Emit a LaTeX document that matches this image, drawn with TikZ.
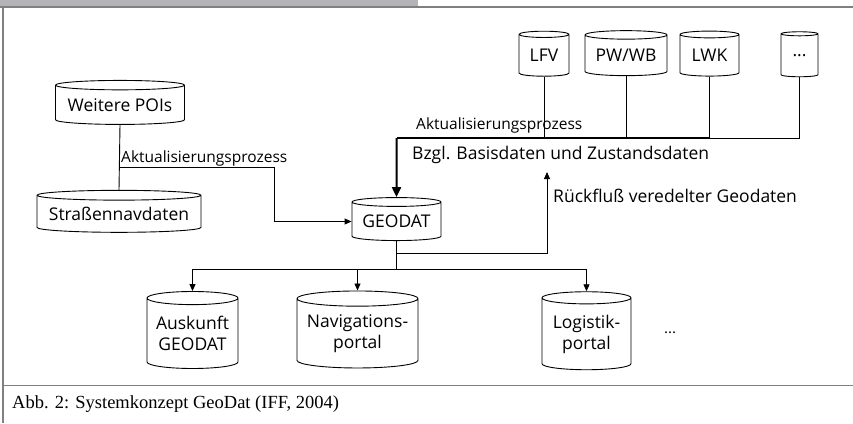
\documentclass[tikz,border=0pt]{standalone}
\usepackage{fontspec}
\setmainfont{Liberation Serif}
\setsansfont{Open Sans}
\usetikzlibrary{shapes.geometric,arrows.meta}
\definecolor{framegray}{RGB}{128,128,128}
\definecolor{bargray}{RGB}{180,180,184}
\tikzset{db/.style={cylinder, shape border rotate=90, draw, line width=0.9pt,
      inner sep=0pt, aspect=#1, font=\sffamily\fontsize{17.5}{21}\selectfont, align=center}}
\tikzset{db/.default=0.15}
\tikzset{feed/.style={line width=0.9pt, -{Triangle[length=7pt,width=6pt]}}}
\tikzset{bigfeed/.style={line width=2pt, -{Triangle[length=10pt,width=9pt]}}}
\tikzset{lbl/.style={anchor=west, inner sep=0pt, font=\sffamily\fontsize{17.5}{20}\selectfont}}

\begin{document}
\begin{tikzpicture}[x=1pt,y=-1pt]
    \useasboundingbox (0,0) rectangle (853,423);
    % frame of the figure
    \fill[bargray] (0,0) rectangle (418,6);
    \draw[framegray, line width=1.2pt] (0,7) -- (853,7);
    \draw[framegray, line width=1.2pt] (3,7) -- (3,423);
    \draw[framegray, line width=1.2pt] (3,385.5) -- (853,385.5);
    \node[anchor=west, inner sep=0pt, font=\rmfamily\fontsize{18.5}{20}\selectfont] (caption) at (12,404) {Abb. 2: Systemkonzept GeoDat (IFF, 2004)};

    % data stores
    \node[db=0.09, minimum width=129pt, minimum height=44pt] (poi) at (120,105) {Weitere POIs};
    \node[db=0.07, minimum width=164pt, minimum height=42pt] (strasse) at (119,214) {Straßennavdaten};
    \node[db=0.13, minimum width=89pt, minimum height=43pt] (geodat) at (396.5,221.5) {GEODAT};
    \node[db=0.18, minimum width=91pt, minimum height=77pt] (ausk) at (192.5,333.5) {Auskunft\\GEODAT};
    \node[db=0.15, minimum width=121pt, minimum height=77pt] (navi) at (357.5,333.5) {Navigations-\\portal};
    \node[db=0.18, minimum width=89pt, minimum height=78pt] (logi) at (586.5,334) {Logistik-\\portal};
    \node[draw=none, font=\sffamily\fontsize{15}{18}\selectfont] (logimore) at (670,333) {...};
    \node[db=0.22, minimum width=50pt, minimum height=45pt] (lfv) at (544,55.5) {LFV};
    \node[db=0.14, minimum width=82pt, minimum height=45pt] (pwwb) at (626,55.5) {PW/WB};
    \node[db=0.19, minimum width=59pt, minimum height=45pt] (lwk) at (709.5,55.5) {LWK};
    \node[db=0.29, minimum width=37pt, minimum height=45pt] (more) at (799.5,55.5) {...};

    % update from the POIs
    \coordinate (j1) at (120,167);
    \coordinate (k1) at (274,167);
    \draw[line width=0.9pt] (poi.south) -- (strasse.north);
    \draw[feed] (j1) -- (k1) |- (geodat.west);
    \node[lbl, anchor=south west, inner sep=1pt, font=\sffamily\fontsize{15.5}{18}\selectfont] (upd1) at (j1) {Aktualisierungsprozess};

    % update from the external sources
    \coordinate (bus) at (396.5,138);
    \draw[line width=0.9pt] (lfv.south) -- (lfv.south |- bus);
    \draw[line width=0.9pt] (pwwb.south) -- (pwwb.south |- bus);
    \draw[line width=0.9pt] (more.south) |- (lwk.south |- bus) -- (lwk.south);
    \draw[line width=2pt] (lwk.south |- bus) -- (bus);
    \draw[bigfeed] (bus) -- (geodat.north);
    \node[lbl, anchor=south west, font=\sffamily\fontsize{15.5}{18}\selectfont] (upd2) at (416,133) {Aktualisierungsprozess};
    \node[lbl] (bzgl) at (412,155) {Bzgl. Basisdaten und Zustandsdaten};

    % distribution and return flow
    \coordinate (fork) at (396.5,269);
    \coordinate (back) at (547,253);
    \coordinate (backtip) at (547,172);
    \draw[line width=0.9pt] (geodat.south) -- (fork);
    \draw[feed] (fork) -| (ausk.north);
    \draw[feed] (fork) -| (navi.north);
    \draw[feed] (fork) -| (logi.north);
    \draw[feed] (geodat.south |- back) -- (back) -- (backtip);
    \node[lbl] (rueck) at (553,196) {Rückfluß veredelter Geodaten};
\end{tikzpicture}
\end{document}
